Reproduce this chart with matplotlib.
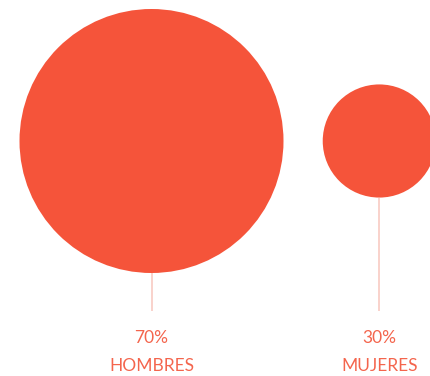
import matplotlib
matplotlib.use("Agg")
import matplotlib.pyplot as plt
from matplotlib.patches import Circle

categories = ["HOMBRES", "MUJERES"]
values = [70, 30]
pct_labels = ["70%", "30%"]

W, H = 430, 376
fig = plt.figure(figsize=(W / 100, H / 100), dpi=100)
ax = fig.add_axes([0, 0, 1, 1])
ax.set_xlim(0, W)
ax.set_ylim(H, 0)
ax.set_aspect("auto")
ax.axis("off")

circle_color = "#F5543A"
line_color = "#F9CFC7"
text_color = "#F4654D"

centers_x = [151.5, 379.3]
center_y = 141
scale = 132 / 70.0
line_bottom = 311

for cx, v, cat, pl in zip(centers_x, values, categories, pct_labels):
    r = v * scale
    ax.plot([cx, cx], [center_y + r, line_bottom], color=line_color, lw=1.3,
            solid_capstyle="butt", zorder=1)
    ax.add_patch(Circle((cx, center_y), r, facecolor=circle_color,
                        edgecolor="none", zorder=2))
    ax.text(cx, 338, pl, ha="center", va="center", fontsize=12.5,
            color=text_color, family="Lato", fontweight="normal")
    ax.text(cx, 366, cat, ha="center", va="center", fontsize=12.5,
            color=text_color, family="Lato", fontweight="normal")

fig.savefig("out.png", dpi=100)
